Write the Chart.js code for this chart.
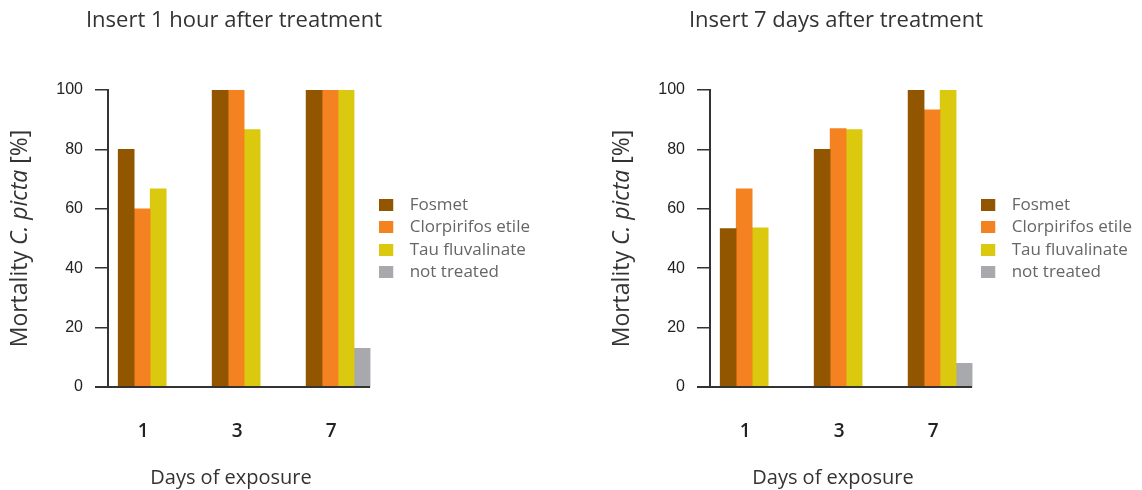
<!DOCTYPE html>
<html>
<head>
<meta charset="utf-8">
<script src="https://cdn.jsdelivr.net/npm/chart.js@4/dist/chart.umd.min.js"></script>
<style>
  body { margin: 0; background: #fff; width: 1142px; height: 490px; overflow: hidden; }
  .panel { position: absolute; top: 0; width: 540px; height: 490px; }
</style>
</head>
<body>
<div class="panel" style="left:0"><canvas id="hourChart" width="540" height="490"></canvas></div>
<div class="panel" style="left:602px"><canvas id="weekChart" width="540" height="490"></canvas></div>
<script>
// exposure days on the x axis
const days = ["1", "3", "7"];
const seriesNames = ["Fosmet", "Clorpirifos etile", "Tau fluvalinate", "not treated"];
const seriesColors = ["#935600", "#f58220", "#dbc90f", "#a7a9ac"];
const yTicks = [0, 20, 40, 60, 80, 100];

// insert 1 hour after treatment
const fosmet1h = [80, 100, 100];
const clorpirifos1h = [60, 100, 100];
const tau1h = [66.7, 86.7, 100];
const untreated1h = [0, 0, 13];

// insert 7 days after treatment
const fosmet7d = [53.3, 80, 100];
const clorpirifos7d = [66.7, 87, 93.3];
const tau7d = [53.6, 86.7, 100];
const untreated7d = [0, 0, 8];

const FONT = "'Open Sans', 'DejaVu Sans', sans-serif";
const INK = "#333";

// legend swatch: small square with some empty room after it
function swatch(color) {
  const c = document.createElement("canvas");
  c.width = 22;
  c.height = 12;
  const g = c.getContext("2d");
  g.fillStyle = color;
  g.fillRect(0, 0, 14, 12);
  return c;
}
const swatches = seriesColors.map(swatch);

const decorations = {
  id: "decorations",
  afterDraw(chart, args, opts) {
    const ctx = chart.ctx;
    const area = chart.chartArea;
    const yScale = chart.scales.y;
    ctx.save();

    // baseline, from the y tick to the end of the last bar
    const lastMeta = chart.getDatasetMeta(chart.data.datasets.length - 1);
    const lastBar = lastMeta.data[lastMeta.data.length - 1];
    const y0 = yScale.getPixelForValue(0);
    ctx.strokeStyle = INK;
    ctx.lineWidth = 2;
    ctx.beginPath();
    ctx.moveTo(area.left - 13, y0);
    ctx.lineTo(lastBar.x + lastBar.width / 2, y0);
    ctx.stroke();

    // chart title
    ctx.fillStyle = INK;
    ctx.textAlign = "center";
    ctx.textBaseline = "middle";
    ctx.font = "22px " + FONT;
    ctx.fillText(opts.title, area.left + 126, 21);

    // x axis title
    ctx.font = "20px " + FONT;
    ctx.fillText("Days of exposure", area.left + 123, 478);

    // y axis title with the species name in italics
    const parts = [["Mortality ", ""], ["C. picta", "italic "], [" [%]", ""]];
    let total = 0;
    const widths = parts.map(p => {
      ctx.font = p[1] + "23px " + FONT;
      const w = ctx.measureText(p[0]).width;
      total += w;
      return w;
    });
    ctx.translate(20, (area.top + area.bottom) / 2);
    ctx.rotate(-Math.PI / 2);
    ctx.textAlign = "left";
    let x = -total / 2;
    parts.forEach((p, i) => {
      ctx.font = p[1] + "23px " + FONT;
      ctx.fillText(p[0], x, 0);
      x += widths[i];
    });
    ctx.restore();
  }
};

function makeChart(id, title, series) {
  return new Chart(id, {
    type: "bar",
    data: {
      datasets: series.map((vals, i) => ({
        label: seriesNames[i],
        data: vals.map((v, k) => ({ x: k, y: v })),
        backgroundColor: seriesColors[i],
        borderWidth: 0,
        barThickness: 16
      }))
    },
    options: {
      responsive: false,
      animation: false,
      events: [],
      layout: { padding: { top: 90, left: 0, right: 0, bottom: 0 } },
      plugins: {
        tooltip: { enabled: false },
        decorations: { title: title },
        legend: {
          position: "right",
          fullSize: false,
          maxWidth: 220,
          labels: {
            usePointStyle: true,
            pointStyleWidth: 22,
            padding: 5.4,
            color: "#666",
            font: { family: FONT, size: 17 },
            generateLabels: chart =>
              Chart.defaults.plugins.legend.labels.generateLabels(chart)
                .map(it => ({ ...it, pointStyle: swatches[it.datasetIndex] }))
          }
        }
      },
      scales: {
        x: {
          type: "linear",
          offset: false,
          bounds: "data",
          min: -0.449,
          max: 2.38,
          afterBuildTicks: s => { s.ticks = days.map((d, k) => ({ value: k })); },
          afterFit: s => { s.height = 103; },
          grid: { display: false, offset: false },
          border: { display: false },
          ticks: {
            callback: v => days[v],
            labelOffset: -7,
            padding: 25,
            color: "#222",
            font: { family: FONT, size: 19, weight: "600" }
          }
        },
        y: {
          min: 0,
          max: 100,
          afterBuildTicks: s => { s.ticks = yTicks.map(v => ({ value: v })); },
          afterFit: s => { s.width = 108; },
          grid: { drawOnChartArea: false, drawTicks: true, tickLength: 13, color: INK, lineWidth: 1.5 },
          border: { color: INK, width: 2 },
          ticks: {
            padding: 12,
            color: "#222",
            font: { family: "'Liberation Sans', Arial, sans-serif", size: 16 }
          }
        }
      }
    },
    plugins: [decorations]
  });
}

makeChart("hourChart", "Insert 1 hour after treatment", [fosmet1h, clorpirifos1h, tau1h, untreated1h]);
makeChart("weekChart", "Insert 7 days after treatment", [fosmet7d, clorpirifos7d, tau7d, untreated7d]);
</script>
</body>
</html>
